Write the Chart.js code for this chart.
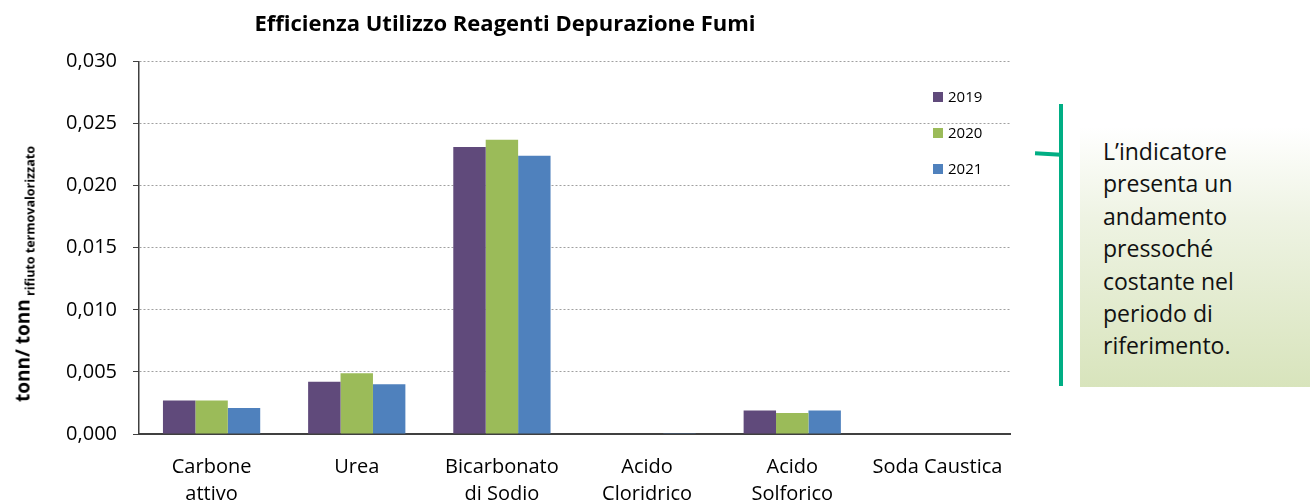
<!DOCTYPE html>
<html>
<head>
<meta charset="utf-8">
<script src="https://cdn.jsdelivr.net/npm/chart.js@4.4.0/dist/chart.umd.min.js"></script>
<style>
  html, body { margin: 0; padding: 0; background: #fff; overflow: hidden; }
  body { width: 1311px; height: 503px; position: relative; font-family: "Open Sans", Lato, sans-serif; }
  #wrap { position: absolute; left: 0; top: 0; width: 1025px; height: 537px; }
  #ytitle {
    position: absolute; left: 24px; top: 274px;
    transform: translate(-50%, -50%) rotate(-90deg);
    white-space: nowrap; font-weight: bold; font-size: 19px; color: #000;
  }
  #ytitle sub { font-size: 12.5px; vertical-align: -5px; }
  #note {
    position: absolute; left: 1080px; top: 127px; width: 230px; height: 260px;
    background: linear-gradient(to bottom, #ffffff 0%, #eef3e3 35%, #d8e4bc 100%);
  }
  #note p {
    margin: 0; position: absolute; left: 23px; top: 8px;
    font-size: 23px; line-height: 32.4px; color: #111;
  }
  #vline { position: absolute; left: 1059px; top: 104px; width: 4px; height: 282px; background: #00ae84; }
  #hline { position: absolute; left: 1035px; top: 152px; width: 26px; height: 4px; background: #00ae84; transform: rotate(3deg); }
</style>
</head>
<body>
<div id="wrap"><canvas id="myChart"></canvas></div>
<div id="ytitle">tonn/ tonn<sub> rifiuto termovalorizzato</sub></div>
<div id="vline"></div>
<div id="hline"></div>
<div id="note"><p>L’indicatore<br>presenta un<br>andamento<br>pressoché<br>costante nel<br>periodo di<br>riferimento.</p></div>
<script>
const categorie = [['Carbone', 'attivo'], 'Urea', ['Bicarbonato', 'di Sodio'], ['Acido', 'Cloridrico'], ['Acido', 'Solforico'], 'Soda Caustica'];
const anni = ['2019', '2020', '2021'];
const valori_2019 = [0.0027, 0.0042, 0.0231, 0, 0.0019, 0];
const valori_2020 = [0.0027, 0.0049, 0.0237, 0, 0.0017, 0];
const valori_2021 = [0.0021, 0.0040, 0.0224, 0.00002, 0.0019, 0];
const colori = ['#604a7b', '#9bbb59', '#4f81bd'];

// legenda dentro l'area del grafico, in verticale
const legendaInterna = {
    id: 'legendaInterna',
    afterDraw(chart) {
        const ctx = chart.ctx;
        ctx.save();
        ctx.font = '15px "Open Sans"';
        ctx.textBaseline = 'middle';
        chart.data.datasets.forEach((ds, i) => {
            const y = 97 + i * 36;
            ctx.fillStyle = ds.backgroundColor;
            ctx.fillRect(933, y - 5, 10, 10);
            ctx.fillStyle = '#000';
            ctx.fillText(ds.label, 948, y + 1);
        });
        ctx.restore();
    }
};

const ctx = document.getElementById('myChart');
const myChart = new Chart(ctx, {
    type: 'bar',
    data: {
        labels: categorie,
        datasets: [
            { label: anni[0], data: valori_2019, backgroundColor: colori[0] },
            { label: anni[1], data: valori_2020, backgroundColor: colori[1] },
            { label: anni[2], data: valori_2021, backgroundColor: colori[2] }
        ]
    },
    options: {
        responsive: true,
        maintainAspectRatio: false,
        animation: false,
        datasets: {
            bar: { barPercentage: 1, categoryPercentage: 0.67 }
        },
        layout: { padding: { left: 0, right: 15, bottom: 9 } },
        plugins: {
            legend: { display: false },
            tooltip: { enabled: false },
            title: {
                display: true,
                text: 'Efficienza Utilizzo Reagenti Depurazione Fumi',
                color: '#000',
                font: { family: 'Open Sans', size: 22, weight: 'bold' },
                padding: { top: 12, bottom: 23 }
            }
        },
        scales: {
            x: {
                grid: { display: false, drawTicks: false },
                border: { color: '#404040', width: 2 },
                ticks: {
                    color: '#000',
                    font: { family: 'Open Sans', size: 20, lineHeight: 1.35 },
                    padding: 20,
                    maxRotation: 0,
                    autoSkip: false
                }
            },
            y: {
                min: 0,
                max: 0.030,
                afterFit(scale) { scale.width = 139; },
                grid: {
                    color: '#a0a0a0',
                    tickColor: '#404040',
                    tickLength: 6,
                    tickBorderDash: []
                },
                border: { color: '#404040', width: 1.5, dash: [2, 2] },
                ticks: {
                    stepSize: 0.005,
                    color: '#000',
                    padding: 16,
                    font: { family: 'Open Sans', size: 20 },
                    callback: v => v.toFixed(3).replace('.', ',')
                }
            }
        }
    },
    plugins: [legendaInterna]
});
</script>
</body>
</html>
